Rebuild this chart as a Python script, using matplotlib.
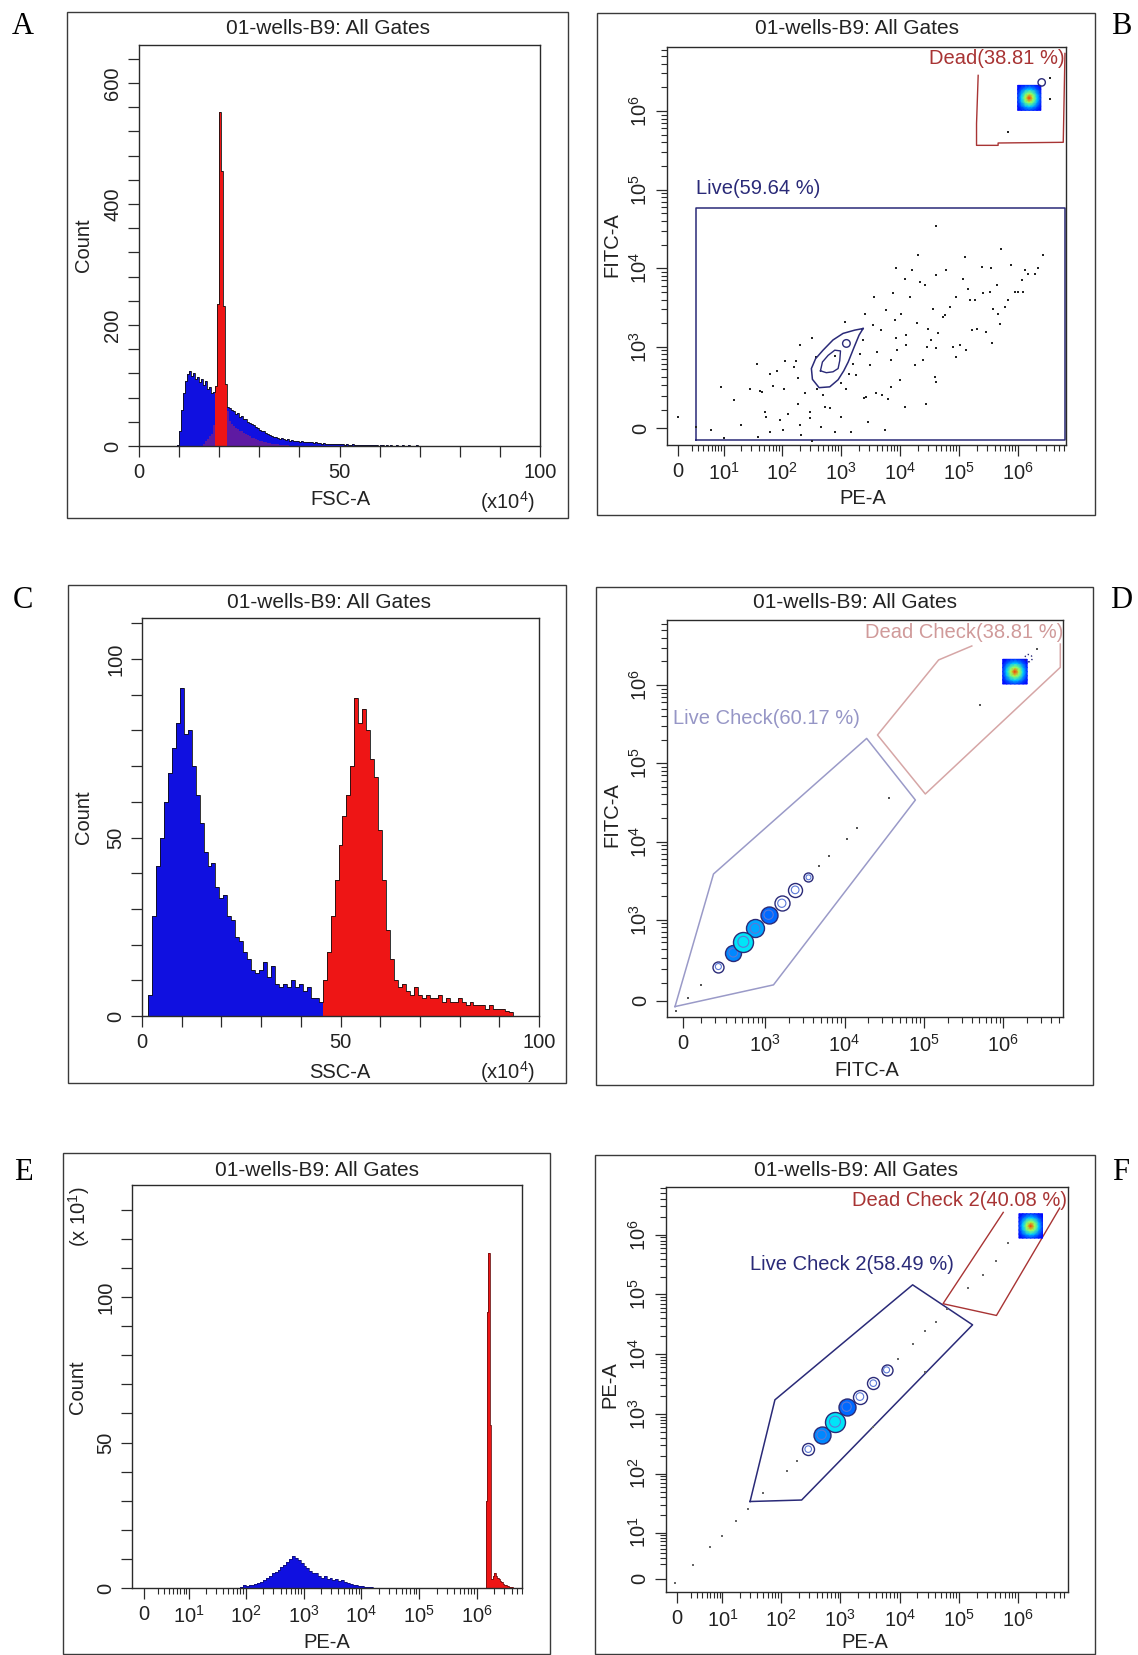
import numpy as np
import matplotlib.pyplot as plt
from matplotlib.patches import Rectangle

plt.rcParams['font.family'] = ['Liberation Sans', 'DejaVu Sans']
plt.rcParams['mathtext.fontset'] = 'custom'
plt.rcParams['mathtext.rm'] = 'Liberation Sans'
plt.rcParams['mathtext.it'] = 'Liberation Sans:italic'
plt.rcParams['mathtext.bf'] = 'Liberation Sans:bold'

# ---------------- data ----------------
title = '01-wells-B9: All Gates'

# A: FSC-A histogram, bins of 0.5 (x10^4) starting at 9.5
a_start, a_width = 9.5, 0.5
a_live = [
    2, 25, 60, 88, 108, 119, 124, 116, 121, 111,
    114, 106, 110, 101, 107, 95, 98, 88, 90, 82,
    80, 76, 74, 70, 71, 64, 63, 59, 58, 53,
    54, 48, 49, 44, 45, 40, 38, 36, 34, 31,
    30, 27, 25, 24, 21, 20, 18, 17, 15, 15,
    13, 12, 13, 11, 10, 11, 9, 10, 8, 9,
    8, 7, 8, 7, 6, 7, 6, 6, 5, 6,
    5, 5, 4, 5, 4, 4, 4, 3, 4, 3,
    3, 4, 3, 2, 3, 2, 2, 3, 2, 2,
    1, 2, 1, 2, 1, 1, 1, 2, 1, 1,
    0, 1, 1, 0, 1, 0, 1, 0, 0, 1,
    0, 0, 1, 0, 0, 1, 0, 0, 0, 1,
]
a_dead = [0] * 10 + [
    0, 0, 0, 4, 8, 12, 16, 20, 35, 100,
    235, 552, 455, 232, 102, 58, 42, 36, 33, 30,
    28, 25, 24, 21, 20, 18, 16, 14, 13, 11,
    10, 9, 8, 7, 6, 5, 5, 4, 4, 3,
    3, 2, 2, 2, 1, 1, 0, 0, 0, 0,
] + [0] * 60

# C: SSC-A histogram, bins of 1 (x10^4) starting at 0.5
c_start, c_width = 0.5, 1.0
c_live = [
    0, 6, 28, 42, 50, 60, 68, 75, 82, 92,
    79, 80, 70, 62, 54, 46, 42, 43, 36, 33,
    34, 28, 27, 22, 21, 18, 16, 13, 12, 13,
    15, 11, 14, 9, 8, 9, 8, 10, 8, 9,
    7, 8, 5, 5, 4, 5, 4, 5, 4, 5,
    4, 5, 4, 4, 5, 3, 4, 3, 4, 3,
    2, 3, 3, 2, 3, 2, 2, 3, 2, 2,
    2, 2, 1, 2, 2, 1, 1, 2, 1, 1,
    1, 1, 1, 1, 1, 1, 1, 1, 1, 0.5,
    0.5, 0.5, 0,
]
c_dead = [0] * 45 + [
    10, 18, 28, 38, 48, 56, 62, 70, 89, 82,
    86, 80, 72, 67, 52, 38, 24, 16, 10, 8,
    9, 7, 6, 8, 6, 5, 6, 5, 5, 6,
    4, 5, 4, 4, 5, 4, 3, 4, 3, 3,
    3, 2, 3, 2, 2, 2, 1.5, 1,
]

# E: PE-A histogram (counts x10^1), bins in log10 steps
e_live_start, e_live_step = 1.90, 0.05
e_live = [
    0.5, 1, 0.8, 1.2, 1.0, 1.5, 1.8, 2.2, 2.8, 3.3,
    4.0, 5.0, 5.5, 6.2, 7.2, 8.0, 9.0, 10.0, 11.0, 10.3,
    9.5, 8.6, 7.5, 6.8, 5.8, 5.0, 5.3, 4.2, 3.6, 4.0,
    3.0, 3.4, 2.8, 3.2, 2.4, 2.8, 2.0, 1.8, 1.4, 1.2,
    1.0, 0.8, 0.6, 0.5, 0.3, 0.2, 0.1, 0.1,
]
e_dead_start, e_dead_step = 6.15, 0.025
e_dead = [30, 95, 115, 56, 3, 4, 5, 4, 3.5, 3, 2.5, 2, 1.5, 1.2, 1, 0.8, 0.5, 0.3, 0.2]

# B: PE-A vs FITC-A events
b_pe = [
    0, 2.6, 5.8, 10, 9, 15, 20, 28, 37, 39,
    42, 46, 51, 53, 62, 63, 70, 82, 91, 104,
    107, 111, 126, 158, 175, 186, 186, 204, 204, 212,
    240, 295, 316, 302, 316, 380, 398, 464, 495, 526,
    645, 776, 1000, 1000, 1150, 1230, 1360, 1500, 1590, 1820,
    2070, 2350, 2400, 2510, 2690, 2880, 3060, 3480, 3560, 3860,
    4060, 4800, 4870, 5480, 5860, 6250, 7100, 7100, 7600, 8100,
    8500, 8500, 8700, 9800, 1.05e4, 1.2e4, 1.2e4, 1.26e4, 1.28e4, 1.45e4,
    1.62e4, 1.78e4, 1.9e4, 2.0e4, 2.14e4, 2.45e4, 2.6e4, 2.7e4, 2.8e4, 3.0e4,
    3.4e4, 3.6e4, 3.9e4, 4.0e4, 4.1e4, 4.1e4, 4.0e4, 4.4e4, 5.4e4, 5.7e4,
    6.1e4, 6.9e4, 7.9e4, 9.0e4, 9.0e4, 1.02e5, 1.17e5, 1.25e5, 1.33e5, 1.42e5,
    1.51e5, 1.62e5, 1.84e5, 1.97e5, 2.4e5, 2.55e5, 2.9e5, 3.3e5, 3.5e5, 3.67e5,
    3.77e5, 4.3e5, 4.57e5, 4.9e5, 5.2e5, 5.9e5, 6.8e5, 7.7e5, 8.8e5, 1.0e6,
    1.22e6, 1.18e6, 1.29e6, 1.47e6, 1.9e6, 2.17e6, 2.65e6, 782, 6.8e5, 3.4e6,
    3.4e6,
]
b_fitc = [
    62, 8, -8, -57, 283, 167, 16, 266, 600, -48,
    245, 238, 90, 62, -22, 428, 290, 480, 46, -12,
    266, 645, 80, 540, 645, 145, 385, 1050, 18, -39,
    222, 90, 1280, 53, -70, 730, 266, 5, 210, 124,
    115, -22, 62, 322, 2090, 266, 440, -22, 600, 418,
    810, 1220, 186, 2650, 195, 33, 570, 1880, 4330, 222,
    855, 1630, 210, -12, 2930, 180, 283, 660, 4780, 2190,
    1280, 1.0e4, 900, 360, 2650, 124, 7400, 1410, 1050, 4330,
    9400, 570, 2020, 1.46e4, 6700, 660, 6080, 145, 1000, 1710,
    1220, 3070, 395, 335, 950, 8100, 3.5e4, 1480, 2400, 2530,
    9600, 3230, 1000, 740, 4330, 1050, 7400, 1.39e4, 900, 5500,
    3920, 1630, 3900, 1710, 1.04e4, 4780, 1550, 5000, 1.0e4, 1100,
    3070, 6080, 2600, 1980, 1.78e4, 3230, 3920, 1.1e4, 5000, 5000,
    5000, 7000, 9400, 8500, 8500, 1.0e4, 1.46e4, 750, 5.4e5, 1.44e6,
    2.6e6,
]
# B live population contours
b_outer_pe = [2360, 1700, 1080, 730, 495, 370, 314, 327, 424, 643, 890, 1110, 1320, 1640, 2020, 2360]
b_outer_fitc = [1710, 1630, 1480, 1220, 900, 697, 515, 365, 275, 283, 360, 480, 630, 960, 1410, 1710]
b_inner_pe = [447, 483, 603, 782, 977, 950, 890, 730, 562, 447]
b_inner_fitc = [480, 630, 770, 900, 880, 660, 515, 465, 452, 480]
b_loop = (1230, 1100)
b_dead_ring = (2.5e6, 2.31e6)
# B gates
b_live_gate_pe = [2.6, 2.6, 6.2e6, 6.2e6, 2.6]
b_live_gate_fitc = [-64, 5.9e4, 5.9e4, -64, -64]
b_dead_gate_pe = [2.1e5, 1.97e5, 1.97e5, 4.57e5, 4.57e5, 5.8e6, 6.2e6]
b_dead_gate_fitc = [2.84e6, 6.9e5, 3.66e5, 3.66e5, 3.92e5, 4.0e5, 5.4e6]
b_dead_box = ((9.8e5, 2.42e6), (1.02e6, 2.12e6))

# D: FITC-A vs FITC-A
d_x = [-39, 24, 104, 4840, 6450, 1.07e4, 1.43e4, 3.6e4, 5.1e5, 2.65e6]
d_y = [-57, 14, 90, 4900, 6560, 1.07e4, 1.48e4, 3.6e4, 5.6e5, 2.9e6]
d_pop_x = [225, 377, 517, 738, 1100, 1620, 2390, 3520]
d_pop_y = [220, 360, 510, 770, 1160, 1630, 2420, 3500]
d_pop_density = [0.10, 0.30, 0.45, 0.35, 0.25, 0.11, 0.08, 0.03]
d_live_gate_x = [-44, 186, 1.9e4, 7.8e4, 1270, -44]
d_live_gate_y = [-32, 3860, 2.08e5, 3.4e4, 90, -32]
d_dead_gate_x = [4.0e5, 1.53e5, 2.6e4, 1.04e5, 5.2e6, 5.2e6]
d_dead_gate_y = [3.15e6, 2.09e6, 2.3e5, 4.06e4, 1.68e6, 3.33e6]
d_dead_box = ((9.8e5, 1.99e6), (1.03e6, 2.13e6))
d_dead_ring = (2.07e6, 2.2e6)

# F: PE-A vs PE-A
f_x = [-0.2, 2.3, 5.9, 10, 17, 28, 50, 125, 188, 3510,
       9550, 1.66e4, 2.67e4, 4.05e4, 6.2e4, 1.44e5, 2.57e5, 4.3e5, 6.8e5, 2.67e4]
f_y = [-0.6, 1.9, 5.3, 8.7, 15.7, 25, 47, 111, 165, 598,
       8300, 1.49e4, 2.4e4, 3.5e4, 5.7e4, 1.28e5, 2.14e5, 3.7e5, 7.2e5, 4990]
f_pop_x = [288, 484, 813, 1280, 2140, 3600, 6030]
f_pop_y = [257, 446, 741, 1320, 1950, 3270, 5460]
f_pop_density = [0.08, 0.30, 0.45, 0.25, 0.10, 0.06, 0.03]
f_live_gate_x = [30, 79, 1.66e4, 1.7e5, 223, 30]
f_live_gate_y = [34, 1720, 1.45e5, 3.1e4, 36, 34]
f_dead_gate_x = [5.6e5, 5.4e4, 4.3e5, 5.0e6]
f_dead_gate_y = [2.37e6, 7.0e4, 4.45e4, 2.8e6]
f_dead_box = ((1.03e6, 2.57e6), (8.8e5, 2.25e6))

# relative density inside the dead cluster square
dead_density = [
    [0.12, 0.14, 0.16, 0.17, 0.16, 0.14, 0.12],
    [0.14, 0.22, 0.30, 0.34, 0.30, 0.22, 0.14],
    [0.16, 0.30, 0.48, 0.58, 0.48, 0.30, 0.16],
    [0.17, 0.34, 0.58, 0.88, 0.58, 0.34, 0.17],
    [0.16, 0.30, 0.48, 0.58, 0.48, 0.30, 0.16],
    [0.14, 0.22, 0.30, 0.34, 0.30, 0.22, 0.14],
    [0.12, 0.14, 0.16, 0.17, 0.16, 0.14, 0.12],
]

# ---------------- style ----------------
FS = 14.5
BLUE = '#1010e0'
RED = '#ee1515'
PURPLE = '#6c1c98'
NAVY = '#2a2a78'
DRED = '#a83434'
W, H = 1138, 1655

fig = plt.figure(figsize=(W / 100, H / 100), dpi=100)


def px_axes(l, t, r, b):
    return fig.add_axes([l / W, 1 - b / H, (r - l) / W, (b - t) / H])


def px_text(x, y, s, **kw):
    kw.setdefault('ha', 'center')
    kw.setdefault('va', 'center')
    kw.setdefault('fontsize', FS)
    kw.setdefault('color', '#222222')
    fig.text(x / W, 1 - y / H, s, **kw)


def px_frame(l, t, r, b):
    fig.add_artist(Rectangle((l / W, 1 - b / H), (r - l) / W, (b - t) / H,
                             transform=fig.transFigure, fill=False, ec='#3a3a3a', lw=1.0))


def biex(a):
    la = np.log10(a)

    def fwd(x):
        return la + np.arcsinh(np.asarray(x, float) / (2 * a)) / np.log(10)

    def inv(u):
        return 2 * a * np.sinh((np.asarray(u, float) - la) * np.log(10))
    return fwd, inv


pe_fwd, pe_inv = biex(1.74)
fitc_fwd, fitc_inv = biex(93.0)


def style(ax):
    for s in ax.spines.values():
        s.set_linewidth(1.0)
        s.set_color('#2a2a2a')
    ax.tick_params(which='both', direction='out', colors='#2a2a2a', labelcolor='#222222',
                   labelsize=FS, top=False, right=False)
    ax.tick_params(which='major', length=8, width=0.9, pad=4)
    ax.tick_params(which='minor', length=4, width=0.8)
    ax.tick_params(axis='y', labelrotation=90)
    for lab in ax.get_yticklabels():
        lab.set_va('center')


def log_ticks(axis, labelled, minor_decades, extra=()):
    majors = [0.0] + [10.0 ** n for n in labelled]
    labels = ['0'] + [r'$\mathregular{10^{%d}}$' % n for n in labelled]
    axis.set_ticks(majors, labels=labels)
    minors = [k * 10.0 ** n for n in minor_decades for k in range(2, 10)] + list(extra)
    axis.set_ticks(minors, minor=True)


def lin_ticks(axis, step, top, every):
    vals = np.arange(0, top + step / 2, step)
    labs = [('%d' % v) if (round(v) % every == 0) else '' for v in vals]
    axis.set_ticks(vals, labels=labs)


def overlay(ax, start, width, live, dead):
    live = np.asarray(live, float)
    dead = np.asarray(dead, float)
    edges = start + width * np.arange(len(live) + 1)
    ax.stairs(live, edges, fill=True, color=BLUE, lw=0)
    ax.stairs(np.where(dead > live, dead, 0), edges, fill=True, color=RED, lw=0)
    ax.stairs(np.where(dead <= live, dead, 0), edges, fill=True, color=PURPLE, lw=0, alpha=0.85)
    ax.stairs(np.maximum(live, dead), edges, color='#111111', lw=0.6)


def dead_square(ax, box):
    gx = np.geomspace(box[0][0], box[0][1], 7)
    gy = np.geomspace(box[1][0], box[1][1], 7)
    X, Y = np.meshgrid(gx, gy)
    ax.pcolormesh(X, Y, np.array(dead_density), cmap='jet', vmin=0, vmax=1,
                  shading='gouraud', zorder=4)


def nodes(ax, xs, ys, dens, diam_px):
    order = np.argsort(dens)
    for i in order:
        s = (diam_px[i] * 0.72) ** 2
        d = dens[i]
        face = plt.cm.jet(0.08 + 0.6 * d) if d >= 0.12 else 'white'
        ax.scatter([xs[i]], [ys[i]], s=s, facecolor=face, edgecolor=NAVY, lw=1.0, zorder=4 + d)
        ax.scatter([xs[i]], [ys[i]], s=s * 0.3, facecolor='none', edgecolor='#5a78d8',
                   lw=0.8, zorder=4.01 + d)


# ---------------- panel A ----------------
px_frame(67, 12, 568, 518)
axA = px_axes(139, 45, 540, 446)
overlay(axA, a_start, a_width, a_live, a_dead)
lin_ticks(axA.xaxis, 10, 100, 50)
lin_ticks(axA.yaxis, 40, 640, 200)
axA.set_xlim(0, 100)
axA.set_ylim(0, 663)
style(axA)
px_text(328, 28, title, fontsize=15)
px_text(83, 245, 'Count', rotation=90)
px_text(340, 500, 'FSC-A')
px_text(508, 502, r'(x10$^{4}$)')

# ---------------- panel B ----------------
px_frame(597, 13, 1095, 515)
axB = px_axes(667, 47, 1066, 445)
axB.set_xscale('function', functions=(pe_fwd, pe_inv))
axB.set_yscale('function', functions=(fitc_fwd, fitc_inv))
axB.plot(b_live_gate_pe, b_live_gate_fitc, color=NAVY, lw=1.1, zorder=2)
axB.plot(b_dead_gate_pe, b_dead_gate_fitc, color=DRED, lw=1.0, zorder=2)
axB.scatter(b_pe, b_fitc, s=2.2, c='#222222', marker='s', lw=0, zorder=3)
axB.plot(b_outer_pe, b_outer_fitc, color=NAVY, lw=1.1, zorder=3)
axB.plot(b_inner_pe, b_inner_fitc, color=NAVY, lw=1.0, zorder=3)
axB.scatter([b_loop[0]], [b_loop[1]], s=30, facecolor='none', edgecolor=NAVY, lw=1.0, zorder=3)
dead_square(axB, b_dead_box)
axB.scatter([b_dead_ring[0]], [b_dead_ring[1]], s=28, facecolor='none', edgecolor=NAVY, lw=1.0, zorder=5)
log_ticks(axB.xaxis, range(1, 7), range(0, 7))
log_ticks(axB.yaxis, range(3, 7), range(2, 7), extra=(100,))
axB.set_xlim(pe_inv(0.051), pe_inv(6.81))
axB.set_ylim(fitc_inv(1.753), fitc_inv(6.814))
style(axB)
px_text(857, 28, title, fontsize=15)
px_text(612, 245, 'FITC-A', rotation=90)
px_text(863, 498, 'PE-A')
px_text(1065, 58, 'Dead(38.81 %)', ha='right', color=DRED)
px_text(696, 188, 'Live(59.64 %)', ha='left', color=NAVY)

# ---------------- panel C ----------------
px_frame(68, 585, 566, 1083)
axC = px_axes(142, 618, 539, 1016)
overlay(axC, c_start, c_width, c_live, c_dead)
lin_ticks(axC.xaxis, 10, 100, 50)
lin_ticks(axC.yaxis, 10, 110, 50)
axC.set_xlim(0, 100)
axC.set_ylim(0, 111.5)
style(axC)
px_text(329, 602, title, fontsize=15)
px_text(83, 817, 'Count', rotation=90)
px_text(340, 1072, 'SSC-A')
px_text(508, 1072, r'(x10$^{4}$)')

# ---------------- panel D ----------------
px_frame(596, 587, 1093, 1085)
axD = px_axes(667, 620, 1063, 1017)
axD.set_xscale('function', functions=(fitc_fwd, fitc_inv))
axD.set_yscale('function', functions=(fitc_fwd, fitc_inv))
axD.plot(d_live_gate_x, d_live_gate_y, color='#9a9ac8', lw=1.1, zorder=2)
axD.plot(d_dead_gate_x, d_dead_gate_y, color='#d6a6a6', lw=1.1, zorder=2)
axD.scatter(d_x, d_y, s=2.2, c='#555555', marker='s', lw=0, zorder=3)
nodes(axD, d_pop_x, d_pop_y, d_pop_density, [11, 16, 20, 18, 17, 15, 14, 9])
dead_square(axD, d_dead_box)
axD.scatter([d_dead_ring[0]], [d_dead_ring[1]], s=28, facecolor='none', edgecolor=NAVY,
            lw=1.0, linestyle=':', zorder=5)
log_ticks(axD.xaxis, range(3, 7), range(2, 7), extra=(100,))
log_ticks(axD.yaxis, range(3, 7), range(2, 7), extra=(100,))
axD.set_xlim(fitc_inv(1.766), fitc_inv(6.75))
axD.set_ylim(fitc_inv(1.761), fitc_inv(6.83))
style(axD)
px_text(855, 603, title, fontsize=15)
px_text(612, 815, 'FITC-A', rotation=90)
px_text(867, 1070, 'FITC-A')
px_text(1063, 633, 'Dead Check(38.81 %)', ha='right', color='#d09a9a')
px_text(673, 718, 'Live Check(60.17 %)', ha='left', color='#9696c6')

# ---------------- panel E ----------------
px_frame(63, 1153, 550, 1654)
axE = px_axes(132, 1185, 522, 1588)
axE.set_xscale('function', functions=(pe_fwd, pe_inv))
e_live_edges = 10 ** (e_live_start + e_live_step * np.arange(len(e_live) + 1))
e_dead_edges = 10 ** (e_dead_start + e_dead_step * np.arange(len(e_dead) + 1))
axE.stairs(e_live, e_live_edges, fill=True, color=BLUE, lw=0)
axE.stairs(e_live, e_live_edges, color='#101060', lw=0.5)
axE.stairs(e_dead, e_dead_edges, fill=True, color=RED, lw=0)
axE.stairs(e_dead, e_dead_edges, color='#701010', lw=0.6)
log_ticks(axE.xaxis, range(1, 7), range(0, 7))
lin_ticks(axE.yaxis, 10, 130, 50)
axE.set_xlim(pe_inv(0.031), pe_inv(6.78))
axE.set_ylim(0, 138.5)
style(axE)
px_text(317, 1170, title, fontsize=15)
px_text(77, 1387, 'Count', rotation=90)
px_text(79, 1217, r'(x 10$^{1}$)', rotation=90)
px_text(327, 1643, 'PE-A')

# ---------------- panel F ----------------
px_frame(595, 1155, 1095, 1654)
axF = px_axes(666, 1187, 1068, 1592)
axF.set_xscale('function', functions=(pe_fwd, pe_inv))
axF.set_yscale('function', functions=(pe_fwd, pe_inv))
axF.plot(f_live_gate_x, f_live_gate_y, color=NAVY, lw=1.1, zorder=2)
axF.plot(f_dead_gate_x, f_dead_gate_y, color=DRED, lw=1.0, zorder=2)
axF.scatter(f_x, f_y, s=2.2, c='#666666', marker='s', lw=0, zorder=3)
nodes(axF, f_pop_x, f_pop_y, f_pop_density, [12, 17, 20, 17, 14, 12, 11])
dead_square(axF, f_dead_box)
log_ticks(axF.xaxis, range(1, 7), range(0, 7))
log_ticks(axF.yaxis, range(1, 7), range(0, 7))
axF.set_xlim(pe_inv(0.061), pe_inv(6.84))
axF.set_ylim(pe_inv(0.017), pe_inv(6.80))
style(axF)
px_text(856, 1171, title, fontsize=15)
px_text(610, 1385, 'PE-A', rotation=90)
px_text(865, 1643, 'PE-A')
px_text(1067, 1200, 'Dead Check 2(40.08 %)', ha='right', color=DRED)
px_text(750, 1265, 'Live Check 2(58.49 %)', ha='left', color=NAVY)

# ---------------- panel letters ----------------
for letter, x, y in [('A', 23, 26), ('B', 1121, 27), ('C', 23, 600),
                     ('D', 1121, 600), ('E', 23, 1172), ('F', 1121, 1172)]:
    px_text(x, y, letter, family='Liberation Serif', fontsize=22, color='black')

fig.savefig('out.png', dpi=100)
